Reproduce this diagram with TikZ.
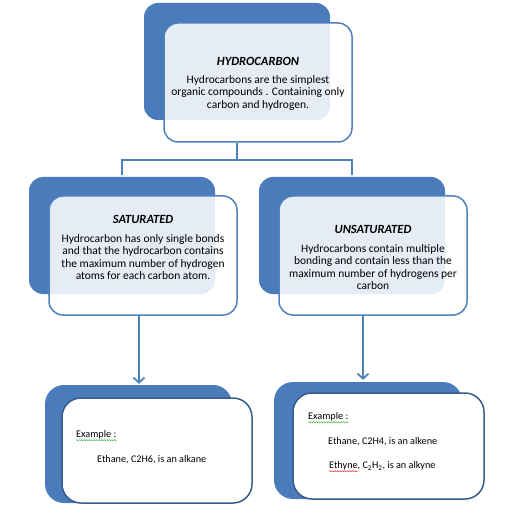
\documentclass[tikz,border=0pt]{standalone}
\usepackage{fontspec}
\setmainfont{Carlito}
\usetikzlibrary{arrows.meta,decorations.pathmorphing}
\definecolor{backblue}{RGB}{74,124,188}
\definecolor{lineblue}{RGB}{79,129,189}
\definecolor{darkline}{RGB}{56,93,138}
\definecolor{wavegreen}{RGB}{60,180,60}
\definecolor{wavered}{RGB}{220,40,40}
\tikzset{
  backbox/.style={rectangle, rounded corners=14pt, fill=backblue, draw=none, inner sep=0pt},
  frontbox/.style={rectangle, rounded corners=14pt, draw=lineblue, line width=1.5pt, fill=white, fill opacity=0.86, inner sep=0pt},
  exfront/.style={rectangle, rounded corners=19pt, draw=darkline, line width=1.5pt, fill=white, inner sep=0pt},
  exback/.style={rectangle, rounded corners=19pt, fill=backblue, draw=none, inner sep=0pt},
  conn/.style={draw=lineblue, line width=1.8pt},
  arr/.style={draw=lineblue, line width=1.8pt, -{Straight Barb[length=5pt,width=11pt,line width=1.8pt]}},
  ttl/.style={font=\fontsize{12.5}{14}\selectfont\bfseries\itshape, inner sep=0pt},
  body/.style={font=\fontsize{11.5}{12.5}\selectfont, align=center, inner sep=0pt},
  extxt/.style={font=\fontsize{10.2}{12.5}\selectfont, anchor=west, inner sep=0pt},
  wavy/.style={line width=0.5pt, decorate, decoration={snake, amplitude=0.6pt, segment length=2.5pt}}
}
\begin{document}
\begin{tikzpicture}[x=1pt,y=-1pt]
\useasboundingbox (0,0) rectangle (511,526);
% top
\node[backbox, minimum width=186pt, minimum height=117pt] (topback) at (237,61.5) {};
\node[frontbox, minimum width=188pt, minimum height=119pt] (topfront) at (258,82.5) {};
\node[ttl] (toptitle) at (258,61) {HYDROCARBON};
\node[body] (toptext) at (258,92.5) {Hydrocarbons are the simplest\\organic compounds . Containing only\\carbon and hydrogen.};
% middle
\node[backbox, minimum width=186pt, minimum height=117pt] (satback) at (122,235.5) {};
\node[frontbox, minimum width=188pt, minimum height=119pt] (satfront) at (143,255.5) {};
\node[ttl] (sattitle) at (143,219) {SATURATED};
\node[body] (sattext) at (143,257) {Hydrocarbon has only single bonds\\and that the hydrocarbon contains\\the maximum number of hydrogen\\atoms for each carbon atom.};
\node[backbox, minimum width=186pt, minimum height=117pt] (unsback) at (352,235.5) {};
\node[frontbox, minimum width=188pt, minimum height=119pt] (unsfront) at (373,255.5) {};
\node[ttl] (unstitle) at (373,229) {UNSATURATED};
\node[body] (unstext) at (373,267) {Hydrocarbons contain multiple\\bonding and contain less than the\\maximum number of hydrogens per\\carbon};
% bottom
\node[exback, minimum width=187pt, minimum height=118pt] (exlback) at (138.5,444) {};
\node[exfront, minimum width=190pt, minimum height=105pt] (exlfront) at (157,450.5) {};
\node[extxt] (exl1) at (76,435) {Example :};
\node[extxt] (exl2) at (97,460) {Ethane, C2H6, is an alkane};
\node[exback, minimum width=188pt, minimum height=117pt] (exrback) at (368,440.5) {};
\node[exfront, minimum width=191pt, minimum height=106pt] (exrfront) at (388.5,446) {};
\node[extxt] (exr1) at (308,417) {Example :};
\node[extxt] (exr2) at (328,442) {Ethane, C2H4, is an alkene};
\node[extxt] (exr3) at (329,466) {Ethyne, C\textsubscript{2}H\textsubscript{2}, is an alkyne};
% spell-check underlines
\draw[wavy, wavegreen] ([yshift=-2.5pt]exl1.base west) -- ([yshift=-2.5pt]exl1.base east);
\draw[wavy, wavegreen] ([yshift=-2.5pt]exr1.base west) -- ([yshift=-2.5pt]exr1.base east);
\draw[wavy, wavered] ([yshift=-2.5pt]exr3.base west) -- ++(29,0);
% connectors
\coordinate (topstart) at (topback.south |- topfront.south);
\coordinate (split) at ([yshift=-17pt]topstart);
\draw[conn] (topstart) -- (split);
\draw[conn] (split) -| ([yshift=2pt]satback.north);
\draw[conn] (split) -| ([yshift=2pt]unsback.north);
\draw[arr] ([xshift=-4pt]satfront.south) -- ([xshift=-4pt,yshift=1pt]satfront.south |- exlback.north);
\draw[arr] ([xshift=-10pt]unsfront.south) -- ([xshift=-10pt,yshift=2pt]unsfront.south |- exrback.north);
\end{tikzpicture}
\end{document}
